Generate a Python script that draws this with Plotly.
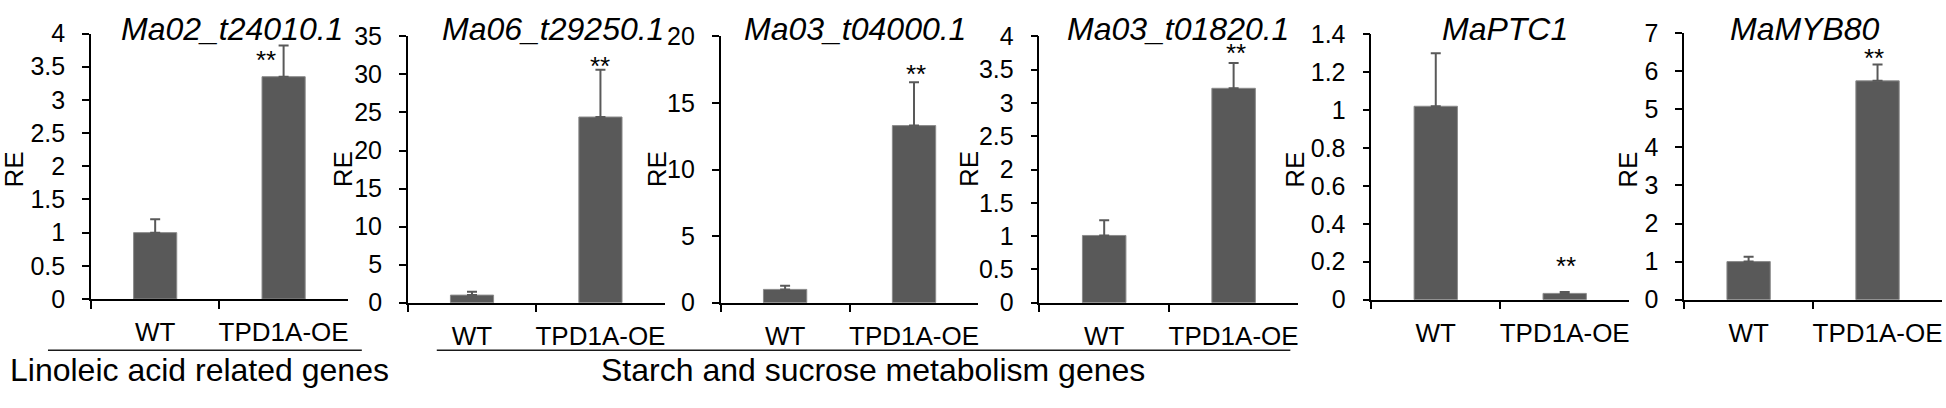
import plotly.graph_objects as go

W, H = 1946, 408

# ---------------- data ----------------
genes = ["Ma02_t24010.1", "Ma06_t29250.1", "Ma03_t04000.1",
         "Ma03_t01820.1", "MaPTC1", "MaMYB80"]
groups = ["WT", "TPD1A-OE"]
wt_mean = [1.00, 1.00, 1.00, 1.01, 1.02, 1.00]
wt_err = [0.20, 0.45, 0.28, 0.23, 0.28, 0.13]
oe_mean = [3.35, 24.4, 13.3, 3.22, 0.033, 5.75]
oe_err = [0.47, 6.2, 3.25, 0.38, 0.008, 0.43]
y_max = [4, 35, 20, 4, 1.4, 7]
y_dtick = [0.5, 5, 5, 0.5, 0.2, 1]
signif = ["**", "**", "**", "**", "**", "**"]
group_labels = ["Linoleic acid related genes", "Starch and sucrose metabolism genes"]

# ---------------- layout (pixels) ----------------
panel_x = [(91, 348), (408, 665), (721, 979), (1040, 1299), (1372, 1630), (1685, 1943)]
panel_y = [(21, 306), (24, 310), (24, 310), (24, 310), (21.7, 306.7), (20.7, 306.7)]
title_x = [232, 553, 855, 1179, 1506, 1806]
re_x = [14, 343, 657, 969, 1295, 1628]
star_dx = [-18, 0, 2, 2, 1, -4]
star_dy = [10, -9, -13, -15, -31, -11]   # star centre relative to error-bar top (px, down +)
group_line_px = [(48, 362), (437, 1291)]
group_text_x = [200, 873]

FONT = "Liberation Sans, Arial, sans-serif"
BAR = "#595959"

fig = go.Figure()
layout = dict(width=W, height=H, margin=dict(l=0, r=0, t=0, b=0),
              plot_bgcolor="white", paper_bgcolor="white", showlegend=False,
              bargap=0.664, font=dict(family=FONT, color="black"))
annotations = []
shapes = []

for i in range(6):
    k = "" if i == 0 else str(i + 1)
    xa, ya = "x" + k, "y" + k
    fig.add_trace(go.Bar(
        x=groups, y=[wt_mean[i], oe_mean[i]],
        xaxis=xa, yaxis=ya,
        marker=dict(color=BAR, line=dict(color="#8a8a8a", width=1)),
        error_y=dict(type="data", symmetric=False,
                     array=[wt_err[i], oe_err[i]], arrayminus=[0, 0],
                     color=BAR, thickness=2, width=5),
    ))
    x0, x1 = panel_x[i]
    yt, yb = panel_y[i]
    layout["xaxis" + k] = dict(
        domain=[x0 / W, x1 / W], anchor=ya, type="category",
        categoryorder="array", categoryarray=groups,
        showline=True, linecolor="black", linewidth=1.5,
        ticks="outside", tickson="boundaries", ticklen=8, tickwidth=1.5,
        tickcolor="black", showgrid=False, zeroline=False, tickangle=0,
        tickfont=dict(size=26, family=FONT, color="black"),
        ticklabelstandoff=9, fixedrange=True)
    layout["yaxis" + k] = dict(
        domain=[1 - yb / H, 1 - yt / H], anchor=xa,
        range=[0, y_max[i]], dtick=y_dtick[i], tick0=0,
        showline=True, linecolor="black", linewidth=1.5,
        ticks="outside", ticklen=7, tickwidth=1.5, tickcolor="black",
        showgrid=False, zeroline=False,
        tickfont=dict(size=25, family=FONT, color="black"),
        ticklabelstandoff=12, fixedrange=True)
    # gene title
    annotations.append(dict(
        text=genes[i], xref="paper", yref="paper",
        x=title_x[i] / W, y=1 - 16 / H, xanchor="center", yanchor="middle",
        showarrow=False,
        font=dict(size=32, family=FONT, style="italic", color="black")))
    # RE label
    annotations.append(dict(
        text="RE", xref="paper", yref="paper",
        x=re_x[i] / W, y=1 - 167 / H, xanchor="center", yanchor="middle",
        textangle=-90, showarrow=False,
        font=dict(size=26, family=FONT, color="black")))
    # significance
    annotations.append(dict(
        text=signif[i], xref=xa, yref=ya,
        x=groups[1], y=oe_mean[i] + oe_err[i],
        xanchor="center", yanchor="middle",
        xshift=star_dx[i], yshift=-(star_dy[i] + 5),
        showarrow=False,
        font=dict(size=26, family=FONT, color="black")))

for (lx0, lx1), tx, lab in zip(group_line_px, group_text_x, group_labels):
    shapes.append(dict(type="line", xref="paper", yref="paper",
                       x0=lx0 / W, x1=lx1 / W, y0=1 - 361 / H, y1=1 - 361 / H,
                       line=dict(color="#1a1a1a", width=1.5)))
    annotations.append(dict(
        text=lab, xref="paper", yref="paper",
        x=tx / W, y=1 - 382 / H, xanchor="center", yanchor="middle",
        showarrow=False, font=dict(size=32, family=FONT, color="black")))

layout["annotations"] = annotations
layout["shapes"] = shapes
fig.update_layout(**layout)

fig.write_html("out.html",
               config={"displayModeBar": False},
               post_script="document.body.style.margin='0';document.body.style.overflow='hidden';")
